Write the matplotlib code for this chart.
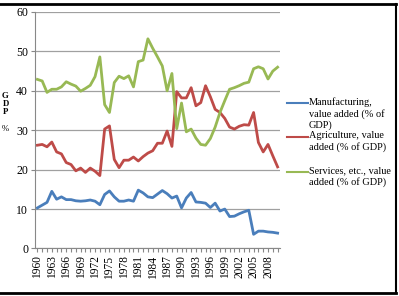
import matplotlib
matplotlib.use("Agg")
import matplotlib.pyplot as plt
from matplotlib.lines import Line2D

years = list(range(1960, 2011))

manufacturing = [10.3, 11.0, 11.7, 14.5, 12.5, 13.1, 12.4, 12.4, 12.1, 12.0,
                 12.1, 12.3, 12.0, 11.1, 13.7, 14.6, 13.1, 12.0, 12.0, 12.3,
                 12.0, 14.8, 14.1, 13.1, 12.9, 13.8, 14.7, 13.9, 12.8, 13.3,
                 10.3, 12.8, 14.2, 11.8, 11.7, 11.5, 10.4, 11.5, 9.5, 10.0,
                 8.1, 8.2, 8.8, 9.3, 9.7, 3.6, 4.4, 4.4, 4.2, 4.1,
                 3.9]

agriculture = [26.2, 26.4, 25.8, 27.0, 24.5, 24.0, 21.8, 21.3, 19.7, 20.4,
               19.3, 20.4, 19.6, 18.5, 30.3, 31.1, 22.6, 20.5, 22.4, 22.4,
               23.2, 22.2, 23.3, 24.2, 24.8, 26.7, 26.7, 29.8, 25.9, 39.8,
               38.2, 38.2, 40.8, 36.2, 37.0, 41.3, 38.5, 35.3, 34.5, 33.0,
               30.8, 30.3, 31.0, 31.4, 31.3, 34.5, 26.9, 24.5, 26.4, 23.5,
               20.7]

services = [42.9, 42.5, 39.6, 40.4, 40.4, 41.0, 42.3, 41.7, 41.2, 39.9,
            40.6, 41.4, 43.6, 48.6, 36.5, 34.5, 42.1, 43.7, 43.1, 43.8,
            41.0, 47.4, 47.8, 53.2, 50.8, 48.6, 46.3, 40.0, 44.4, 30.4,
            36.9, 29.6, 30.3, 28.0, 26.4, 26.2, 27.9, 30.8, 34.5, 37.5,
            40.4, 40.8, 41.3, 41.9, 42.2, 45.6, 46.1, 45.6, 43.0, 45.0,
            46.0]

series_names = ["Manufacturing,\nvalue added (% of\nGDP)",
                "Agriculture, value\nadded (% of GDP)",
                "Services, etc., value\nadded (% of GDP)"]
colors = ["#4A7EBB", "#BE4B48", "#98B954"]

plt.rcParams['font.family'] = ['Liberation Serif', 'DejaVu Serif']

fig = plt.figure(figsize=(3.99, 2.96), dpi=100)
ax = fig.add_axes([0.0877, 0.1605, 0.6141, 0.7990])

for vals, c in zip([manufacturing, agriculture, services], colors):
    ax.plot(years, vals, color=c, lw=2.0, solid_joinstyle='round')

ax.set_xlim(1959.5, 2010.5)
ax.set_ylim(0, 60)
ax.set_yticks(range(0, 61, 10))
ax.set_xticks(years)
ax.set_xticklabels([str(y) if (y - 1960) % 3 == 0 else "" for y in years],
                   rotation=90, fontsize=8.3)
ax.tick_params(axis='y', labelsize=8.5, length=3, color='#888888', pad=2)
ax.tick_params(axis='x', length=3, color='#888888', pad=2)
ax.grid(axis='y', color='#A0A0A0', lw=0.9)
ax.set_axisbelow(True)
for s in ['top', 'right']:
    ax.spines[s].set_visible(False)
for s in ['left', 'bottom']:
    ax.spines[s].set_color('#888888')

# y label stacked letters
for ch, ypx, w in [("G", 96, 'bold'), ("D", 104, 'bold'), ("P", 112, 'bold'), ("%", 129, 'normal')]:
    fig.text(5.5 / 399, 1 - ypx / 296, ch, fontsize=6.3, fontweight=w,
             ha='center', va='center')

# legend drawn by hand to match the layout
leg_rows = [103, 137, 172]
for name, c, ypx in zip(series_names, colors, leg_rows):
    yf = 1 - ypx / 296
    fig.add_artist(Line2D([287 / 399, 308 / 399], [yf, yf], color=c, lw=1.5))
    fig.text(309 / 399, 1 - (ypx - 6) / 296, name, fontsize=7.4, ha='left', va='top',
             linespacing=1.25)

# page frame lines
fig.add_artist(Line2D([0, 396 / 399], [1 - 4 / 296, 1 - 4 / 296], color='black', lw=2))
fig.add_artist(Line2D([0, 396 / 399], [1 - 293 / 296, 1 - 293 / 296], color='black', lw=2))
fig.add_artist(Line2D([395.5 / 399, 395.5 / 399], [1 - 293 / 296, 1 - 4 / 296], color='black', lw=1.5))

fig.savefig("out.png", dpi=100)
